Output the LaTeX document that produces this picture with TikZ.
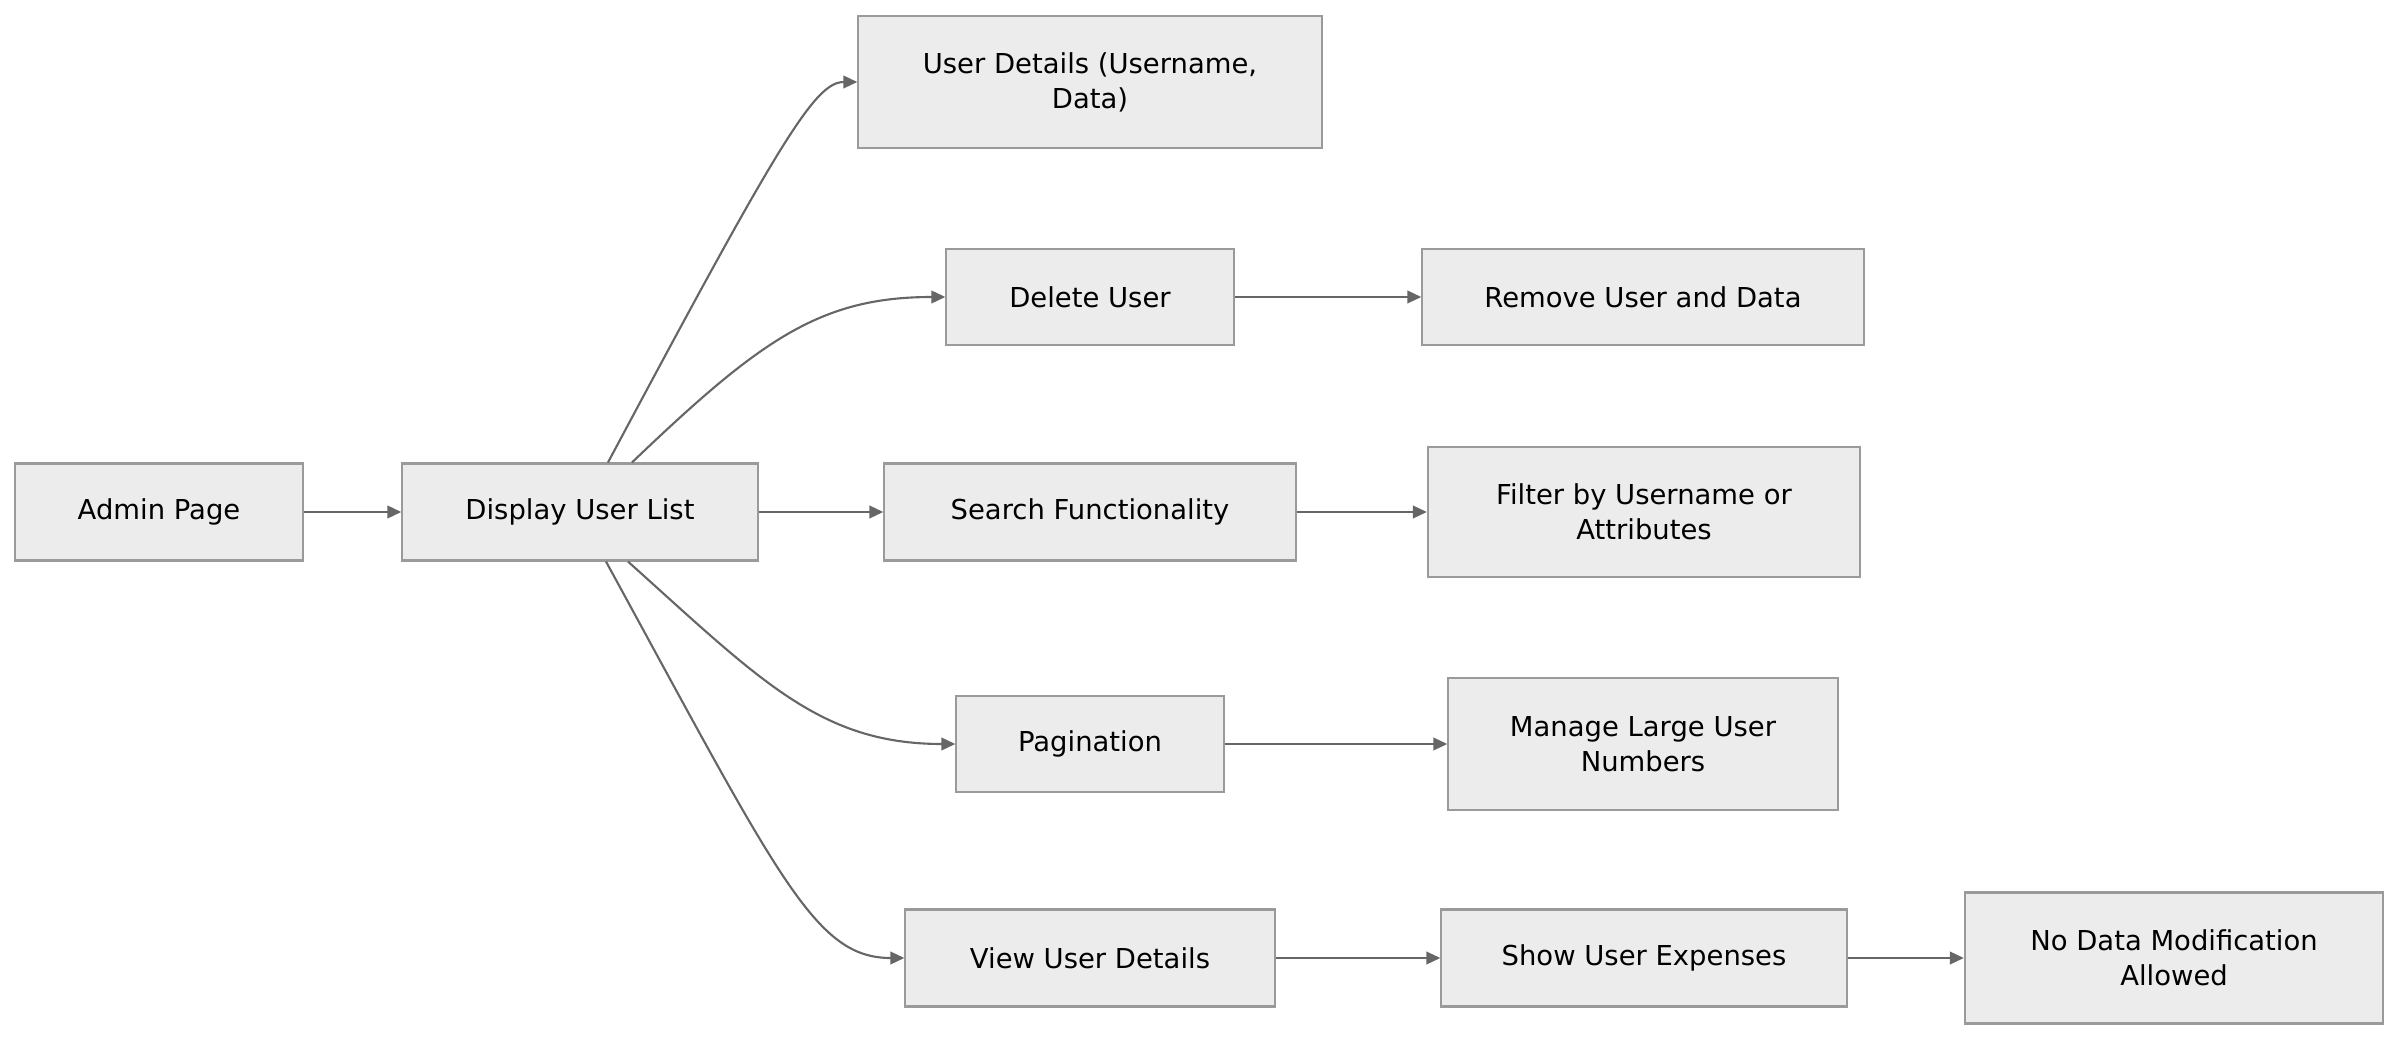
\documentclass[tikz,border=0pt]{standalone}
\usepackage{fontspec}
\setmainfont{DejaVu Sans}
\usetikzlibrary{arrows.meta}
\definecolor{boxfill}{HTML}{ECECEC}
\definecolor{boxline}{HTML}{9A9A9A}
\definecolor{linkline}{HTML}{666666}
\begin{document}
\begin{tikzpicture}[x=0.01cm, y=-0.01cm,
     every node/.style = {shape=rectangle, draw=boxline, fill=boxfill,
         line width=0.6pt, align=center, inner sep=0pt,
         font=\fontsize{7.8}{10}\selectfont},
     link/.style = {draw=linkline, line width=0.6pt,
         -{Triangle[length=4pt, width=3.6pt]}}]
        \useasboundingbox (0,0) rectangle (2400,1040);
        % first column
        \node [minimum width=2.88cm, minimum height=0.97cm] (admin) at (159,512) {Admin Page};
        \node [minimum width=3.55cm, minimum height=0.97cm] (list) at (580,512) {Display User List};
        % second column
        \node [minimum width=4.63cm, minimum height=1.32cm] (details) at (1090,82) {User Details (Username,\\ Data)};
        \node [minimum width=2.87cm, minimum height=0.96cm] (delete) at (1090,297) {Delete User};
        \node [minimum width=4.11cm, minimum height=0.97cm] (search) at (1090,512) {Search Functionality};
        \node [minimum width=2.67cm, minimum height=0.96cm] (pages) at (1090,744) {Pagination};
        \node [minimum width=3.69cm, minimum height=0.97cm] (view) at (1090,958) {View User Details};
        % third column
        \node [minimum width=4.41cm, minimum height=0.96cm] (remove) at (1643,297) {Remove User and Data};
        \node [minimum width=4.32cm, minimum height=1.30cm] (filter) at (1644,512) {Filter by Username or\\ Attributes};
        \node [minimum width=3.89cm, minimum height=1.32cm] (large) at (1643,744) {Manage Large User\\ Numbers};
        \node [minimum width=4.05cm, minimum height=0.97cm] (expenses) at (1644,958) {Show User Expenses};
        \node [minimum width=4.18cm, minimum height=1.31cm] (nomod) at (2174,958) {No Data Modification\\ Allowed};
        % links
        \draw [link] (admin) -- (list);
        \draw [link] (list) -- (search);
        \draw [link] (search) -- (filter);
        \draw [link] (delete) -- (remove);
        \draw [link] (pages) -- (large);
        \draw [link] (view) -- (expenses);
        \draw [link] (expenses) -- (nomod);
        \draw [link] (list.north) ++(28,0) .. controls (780,140) and (815,82) .. (details.west);
        \draw [link] (list.north) ++(52,0) .. controls (760,340) and (820,297) .. (delete.west);
        \draw [link] (list.south) ++(48,0) .. controls (760,680) and (820,744) .. (pages.west);
        \draw [link] (list.south) ++(26,0) .. controls (780,880) and (815,958) .. (view.west);
\end{tikzpicture}
\end{document}
